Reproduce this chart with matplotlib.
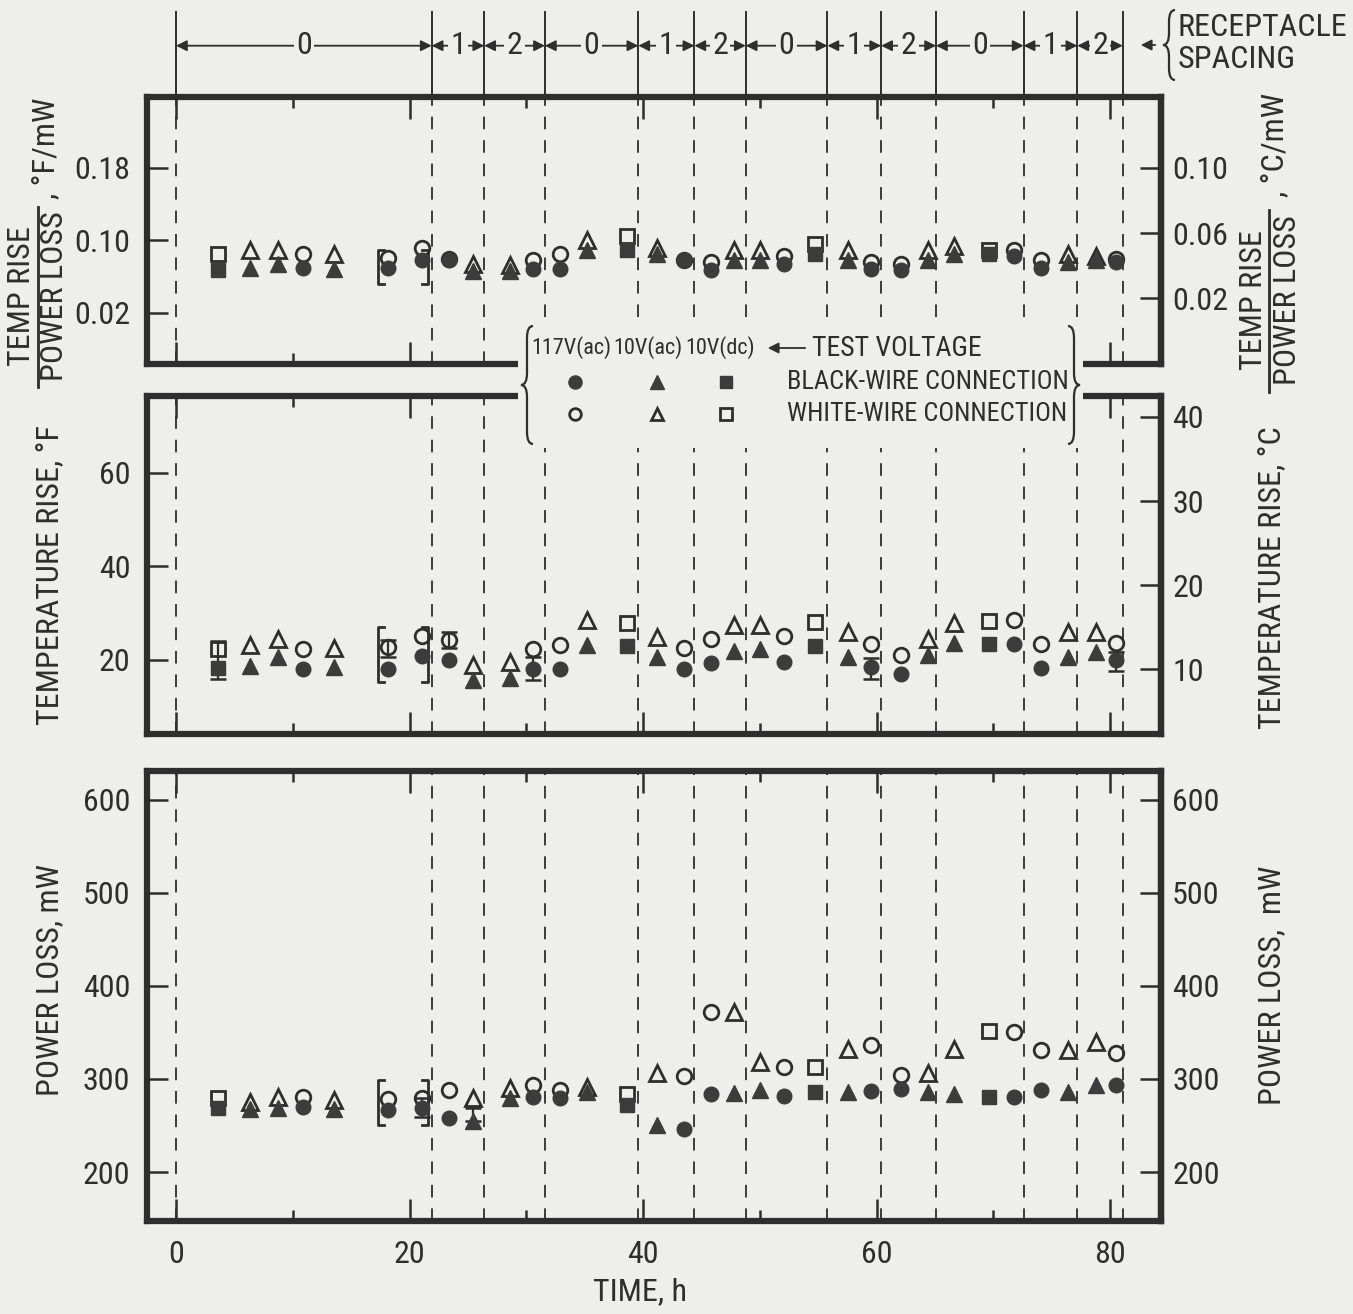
import matplotlib
matplotlib.use('Agg')
import matplotlib.pyplot as plt
from matplotlib import font_manager
from matplotlib.path import Path
from matplotlib.patches import PathPatch, Rectangle
from matplotlib.lines import Line2D

# ---------------- data ----------------
time_h = [3.6, 6.3, 8.7, 10.9, 13.5, 18.2, 21.1, 23.4, 25.4, 28.6, 30.6, 32.9,
          35.2, 38.6, 41.2, 43.5, 45.8, 47.8, 50.0, 52.1, 54.7, 57.6, 59.5, 62.1,
          64.4, 66.6, 69.6, 71.8, 74.1, 76.4, 78.8, 80.5]
test_voltage = ['dc', 'ac10', 'ac10', 'ac117', 'ac10', 'ac117', 'ac117', 'ac117',
                'ac10', 'ac10', 'ac117', 'ac117', 'ac10', 'dc', 'ac10', 'ac117',
                'ac117', 'ac10', 'ac10', 'ac117', 'dc', 'ac10', 'ac117', 'ac117',
                'ac10', 'ac10', 'dc', 'ac117', 'ac117', 'ac10', 'ac10', 'ac117']

ratio_black = [0.067, 0.070, 0.074, 0.070, 0.068, 0.070, 0.078, 0.079, 0.066, 0.066,
               0.068, 0.068, 0.089, 0.090, 0.085, 0.079, 0.067, 0.079, 0.079, 0.074,
               0.085, 0.079, 0.068, 0.067, 0.078, 0.085, 0.085, 0.083, 0.070, 0.076,
               0.078, 0.076]
ratio_white = [0.085, 0.089, 0.089, 0.085, 0.085, 0.081, 0.092, 0.080, 0.074, 0.073,
               0.079, 0.085, 0.101, 0.105, 0.092, 0.079, 0.076, 0.089, 0.089, 0.083,
               0.096, 0.089, 0.076, 0.074, 0.089, 0.094, 0.090, 0.090, 0.078, 0.085,
               0.083, 0.080]

temp_black = [18.3, 18.7, 20.7, 18.0, 18.6, 18.0, 20.8, 20.0, 15.8, 16.2, 18.0, 18.0,
              23.2, 23.0, 20.7, 18.0, 19.3, 21.9, 22.3, 19.6, 23.0, 20.7, 18.5, 17.0,
              21.1, 23.7, 23.5, 23.5, 18.2, 20.7, 21.7, 20.0]
temp_white = [22.3, 23.2, 24.5, 22.3, 22.5, 22.8, 25.1, 24.3, 19.0, 19.6, 22.3, 23.2,
              28.5, 28.0, 25.0, 22.5, 24.5, 27.4, 27.4, 25.2, 28.2, 26.0, 23.5, 21.1,
              24.5, 27.9, 28.4, 28.6, 23.4, 26.0, 26.0, 23.7]

power_black = [269, 268, 269, 270, 268, 267, 269, 258, 255, 280, 281, 280, 286, 272,
               250, 246, 284, 285, 288, 282, 286, 286, 287, 289, 286, 284, 281, 281,
               288, 286, 294, 293]
power_white = [279, 275, 281, 281, 277, 278, 280, 288, 280, 290, 293, 288, 291, 284,
               306, 303, 372, 372, 318, 313, 313, 332, 337, 304, 306, 332, 352, 350,
               331, 331, 340, 328]

temp_err_time = [3.6, 18.2, 23.4, 30.6, 59.5, 80.5]
temp_err_low = [16.0, 20.7, 22.5, 15.8, 16.0, 17.6]
temp_err_high = [24.0, 24.3, 26.0, 20.7, 20.5, 21.7]
power_err_time = [21.1, 25.4]
power_err_low = [259, 255]
power_err_high = [279, 269]

spacing_bounds = [0.0, 21.9, 26.4, 31.6, 39.6, 44.4, 48.8, 55.8, 60.4, 65.1, 72.6, 77.2, 81.1]
spacing_labels = ['0', '1', '2', '0', '1', '2', '0', '1', '2', '0', '1', '2']

bracket_times = [17.3, 21.6]
bracket_ratio = [0.052, 0.090]
bracket_temp = [15.3, 27.1]
bracket_power = [250.6, 299.0]

x_major = [0, 20, 40, 60, 80]
x_minor = [10, 30, 50, 70]
ratio_ticks_F = [0.02, 0.10, 0.18]
ratio_ticks_C = [0.02, 0.06, 0.10]
temp_ticks_F = [20, 40, 60]
temp_ticks_C = [10, 20, 30, 40]
power_ticks = [200, 300, 400, 500, 600]

# ---------------- style ----------------
avail = {f.name for f in font_manager.fontManager.ttflist}
FONT = 'DejaVu Sans'
STRETCH = 'normal'
for cand in ['Liberation Sans Narrow', 'Roboto Condensed', 'Open Sans Condensed',
             'DejaVu Sans Condensed']:
    if cand in avail:
        FONT = cand
        break
else:
    if any(f.name == 'DejaVu Sans' and f.stretch == 'condensed'
           for f in font_manager.fontManager.ttflist):
        STRETCH = 'condensed'
plt.rcParams['font.family'] = [FONT, 'DejaVu Sans']
plt.rcParams['font.stretch'] = STRETCH

W, H = 1353, 1314
BG = '#eeeeec'
INK = '#2e2e2e'
FILL = '#3c3c3c'
FS = 23

fig = plt.figure(figsize=(W / 100, H / 100), dpi=100, facecolor=BG)


def fx(px):
    return px / W


def fy(py):
    return 1 - py / H


X0, X1 = 147, 1161
PX0, PXH = 176, 11.675
XLIM = ((X0 - PX0) / PXH, (X1 - PX0) / PXH)

MARKERS = {'ac117': ('o', 10.5), 'ac10': ('^', 11.5), 'dc': ('s', 10)}


def make_axes(ytop, ybot):
    ax = fig.add_axes([fx(X0), fy(ybot), (X1 - X0) / W, (ybot - ytop) / H])
    ax.set_facecolor('none')
    ax.set_xlim(*XLIM)
    for s in ax.spines.values():
        s.set_linewidth(4.5)
        s.set_color(INK)
    ax.set_xticks(x_major)
    ax.set_xticks(x_minor, minor=True)
    ax.tick_params(axis='x', which='both', direction='in', top=True, bottom=True,
                   colors=INK, labelbottom=False, width=1.8)
    ax.tick_params(axis='x', which='major', length=16)
    ax.tick_params(axis='x', which='minor', length=8)
    ax.tick_params(axis='y', which='major', direction='in', length=15, width=1.8,
                   colors=INK, labelsize=FS, pad=12)
    for b in spacing_bounds:
        ax.axvline(b, ls=(0, (7, 6)), lw=1.3, color=INK, zorder=1)
    return ax


def plot_series(ax, black, white):
    for v, (m, ms) in MARKERS.items():
        idx = [i for i, tv in enumerate(test_voltage) if tv == v]
        t = [time_h[i] for i in idx]
        ax.plot(t, [white[i] for i in idx], ls='none', marker=m, ms=ms, mfc='none',
                mec=INK, mew=2.0, zorder=3, clip_on=False)
        ax.plot(t, [black[i] for i in idx], ls='none', marker=m, ms=ms, mfc=FILL,
                mec=FILL, mew=1.0, zorder=4, clip_on=False)


def draw_brackets(ax, yrange, dx=0.55):
    lo, hi = yrange
    tl, tr = bracket_times
    ax.plot([tl + dx, tl, tl, tl + dx], [hi, hi, lo, lo], color=INK, lw=2.0, zorder=3)
    ax.plot([tr - dx, tr, tr, tr - dx], [hi, hi, lo, lo], color=INK, lw=2.0, zorder=3)


def sec_axis(ax, ticks, fwd, inv, pad=8):
    sec = ax.secondary_yaxis('right', functions=(fwd, inv))
    sec.set_yticks(ticks)
    sec.tick_params(direction='in', length=15, width=1.8, colors=INK, labelsize=FS, pad=pad)
    sec.spines['right'].set_linewidth(4.5)
    sec.spines['right'].set_color(INK)
    return sec


f2c = (lambda v: v * 5 / 9, lambda v: v * 9 / 5)

# ---- top panel: ratio ----
ax1 = make_axes(97, 364)
ax1.set_ylim(-0.0363, 0.2583)
ax1.set_yticks(ratio_ticks_F)
ax1.set_yticklabels([f'{v:.2f}' for v in ratio_ticks_F])
plot_series(ax1, ratio_black, ratio_white)
draw_brackets(ax1, bracket_ratio, dx=0.55)
s1 = sec_axis(ax1, ratio_ticks_C, *f2c)
s1.set_yticklabels([f'{v:.2f}' for v in ratio_ticks_C])

# ---- middle panel: temperature rise ----
ax2 = make_axes(396, 734)
ax2.set_ylim(4.17, 76.47)
ax2.set_yticks(temp_ticks_F)
plot_series(ax2, temp_black, temp_white)
draw_brackets(ax2, bracket_temp)
for t, lo, hi in zip(temp_err_time, temp_err_low, temp_err_high):
    mid = (lo + hi) / 2
    ax2.errorbar([t], [mid], yerr=[[mid - lo], [hi - mid]], fmt='none', ecolor=INK,
                 elinewidth=1.6, capsize=6, capthick=1.8, zorder=2)
sec_axis(ax2, temp_ticks_C, *f2c)

# ---- bottom panel: power loss ----
ax3 = make_axes(771, 1221)
ax3.set_ylim(147.4, 630.8)
ax3.set_yticks(power_ticks)
plot_series(ax3, power_black, power_white)
draw_brackets(ax3, bracket_power)
for t, lo, hi in zip(power_err_time, power_err_low, power_err_high):
    mid = (lo + hi) / 2
    ax3.errorbar([t], [mid], yerr=[[mid - lo], [hi - mid]], fmt='none', ecolor=INK,
                 elinewidth=1.6, capsize=6, capthick=1.8, zorder=2)
sec_axis(ax3, power_ticks, lambda v: v, lambda v: v)
ax3.tick_params(axis='x', which='major', labelbottom=True, labelsize=FS, pad=14)

# ---- header: receptacle spacing ----
hax = fig.add_axes([fx(X0), fy(97), (X1 - X0) / W, 90 / H])
hax.set_xlim(*XLIM)
hax.set_ylim(0, 1)
hax.axis('off')
hax.set_facecolor('none')
for b in spacing_bounds:
    hax.plot([b, b], [0.0, 0.95], color=INK, lw=1.4)
YM = 0.57
for (a, b), lab in zip(zip(spacing_bounds[:-1], spacing_bounds[1:]), spacing_labels):
    hax.annotate('', xy=(a, YM), xytext=(b, YM),
                 arrowprops=dict(arrowstyle='<|-|>', mutation_scale=16, lw=1.3,
                                 color=INK, shrinkA=0, shrinkB=0))
    hax.text((a + b) / 2, YM, lab, ha='center', va='center', fontsize=FS, color=INK,
             bbox=dict(fc=BG, ec='none', pad=1.5))

# arrow + brace + RECEPTACLE SPACING
fig.add_artist(matplotlib.patches.FancyArrowPatch(
    (fx(1158), fy(45)), (fx(1138), fy(45)), transform=fig.transFigure,
    arrowstyle='-|>', mutation_scale=16, lw=1.3, color=INK))


def brace(x, ytop, ybot, w, left=True, lw=1.6):
    xe = x + w if left else x - w
    xm = x + w / 2 if left else x - w / 2
    mid = (ytop + ybot) / 2
    d = min(w, (ybot - ytop) / 6)
    pts = [(xe, ytop), (xm, ytop), (xm, ytop + d), (xm, mid - d), (xm, mid), (x, mid),
           (xm, mid), (xm, mid + d), (xm, ybot - d), (xm, ybot), (xe, ybot)]
    codes = [Path.MOVETO, Path.CURVE3, Path.CURVE3, Path.LINETO, Path.CURVE3, Path.CURVE3,
             Path.CURVE3, Path.CURVE3, Path.LINETO, Path.CURVE3, Path.CURVE3]
    pts = [(fx(px), fy(py)) for px, py in pts]
    fig.add_artist(PathPatch(Path(pts, codes), transform=fig.transFigure, fc='none',
                             ec=INK, lw=lw, zorder=12))


brace(1163, 10, 80, 12, left=True)
fig.text(fx(1178), fy(27), 'RECEPTACLE', fontsize=FS, color=INK, va='center', ha='left')
fig.text(fx(1178), fy(60), 'SPACING', fontsize=FS, color=INK, va='center', ha='left')

# ---- legend box ----
fig.add_artist(Rectangle((fx(518), fy(448)), (1083 - 518) / W, (448 - 322) / H,
                         transform=fig.transFigure, fc=BG, ec='none', zorder=10))
brace(521, 326, 444, 12, left=True)
brace(1080, 326, 444, 12, left=False)
LFS = 19
SFS = 16
R1, R2, R3 = 348, 382, 414
fig.text(fx(531), fy(R1), '117V(ac)', fontsize=SFS, color=INK, va='center', zorder=12)
fig.text(fx(613), fy(R1), '10V(ac)', fontsize=SFS, color=INK, va='center', zorder=12)
fig.text(fx(685), fy(R1), '10V(dc)', fontsize=SFS, color=INK, va='center', zorder=12)
fig.add_artist(matplotlib.patches.FancyArrowPatch(
    (fx(808), fy(R1)), (fx(765), fy(R1)), transform=fig.transFigure,
    arrowstyle='-|>', mutation_scale=16, lw=1.3, color=INK, zorder=12))
fig.text(fx(812), fy(R1), 'TEST VOLTAGE', fontsize=LFS + 1, color=INK, va='center', zorder=12)
for (v, (m, ms)), xp in zip(MARKERS.items(), [575, 657, 726]):
    fig.add_artist(Line2D([fx(xp)], [fy(R2)], marker=m, ms=ms * 0.9, mfc=FILL, mec=FILL,
                          ls='none', transform=fig.transFigure, zorder=12))
    fig.add_artist(Line2D([fx(xp)], [fy(R3)], marker=m, ms=ms * 0.8, mfc='none', mec=INK,
                          mew=2.0, ls='none', transform=fig.transFigure, zorder=12))
fig.text(fx(787), fy(R2), 'BLACK-WIRE CONNECTION', fontsize=LFS, color=INK, va='center', zorder=12)
fig.text(fx(787), fy(R3), 'WHITE-WIRE CONNECTION', fontsize=LFS, color=INK, va='center', zorder=12)

# ---- axis labels ----
kw = dict(rotation=90, ha='center', va='center', fontsize=FS, color=INK)
# top-left fraction
fig.text(fx(22), fy(296), 'TEMP RISE', **kw)
fig.text(fx(55), fy(296), 'POWER LOSS', **kw)
fig.add_artist(Line2D([fx(38), fx(38)], [fy(207), fy(387)], color=INK, lw=2.0,
                      transform=fig.transFigure))
fig.text(fx(46), fy(148), ', °F/mW', **kw)
# top-right fraction
fig.text(fx(1253), fy(300), 'TEMP RISE', **kw)
fig.text(fx(1287), fy(300), 'POWER LOSS', **kw)
fig.add_artist(Line2D([fx(1269), fx(1269)], [fy(210), fy(392)], color=INK, lw=2.0,
                      transform=fig.transFigure))
fig.text(fx(1275), fy(145), ', °C/mW', **kw)

fig.text(fx(50), fy(575), 'TEMPERATURE RISE, °F', **kw)
fig.text(fx(1272), fy(578), 'TEMPERATURE RISE, °C', **kw)
fig.text(fx(50), fy(980), 'POWER LOSS, mW', **kw)
fig.text(fx(1272), fy(985), 'POWER LOSS,  mW', **kw)
fig.text(fx(640), fy(1292), 'TIME, h', ha='center', va='center', fontsize=FS, color=INK)

fig.savefig('out.png', dpi=100, facecolor=BG)
